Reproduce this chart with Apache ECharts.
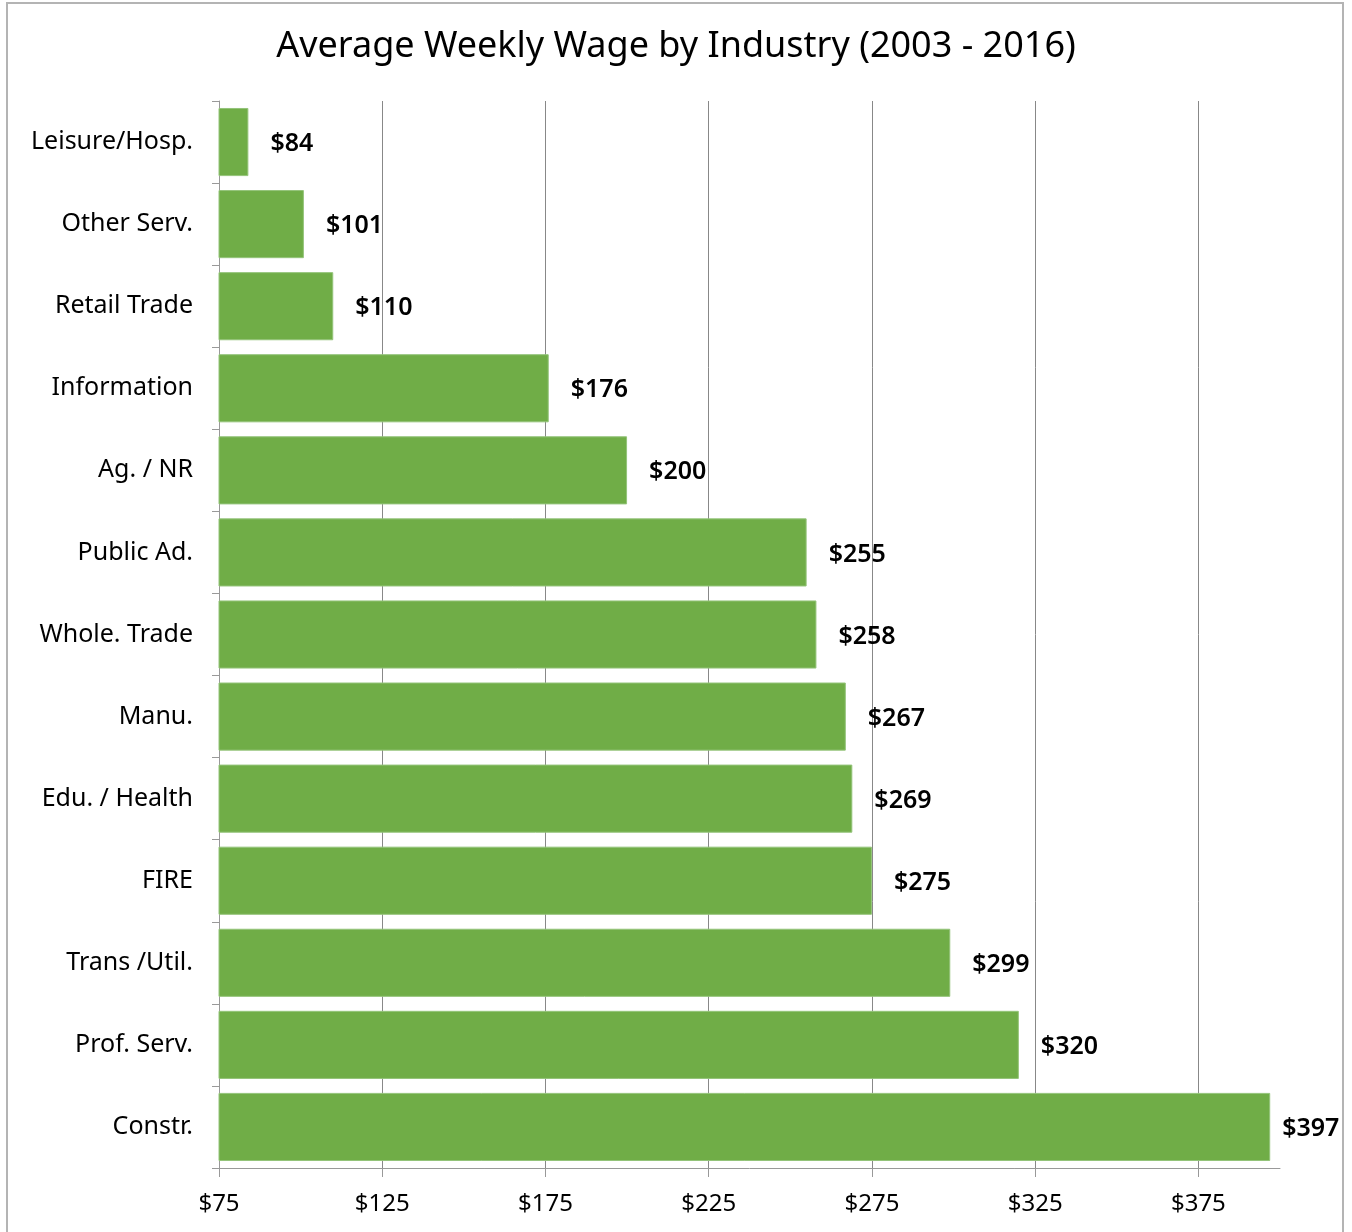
<!DOCTYPE html>
<html>
<head>
<meta charset="utf-8">
<script src="https://cdn.jsdelivr.net/npm/echarts@6/dist/echarts.min.js"></script>
<style>
  html, body { margin: 0; padding: 0; background: #fff; }
  #frame { position: absolute; left: 6px; top: 2px; width: 1338px; height: 1240px; border: 2px solid #b4b4b4; box-sizing: border-box; }
  #chart { position: absolute; left: 0; top: 0; width: 1352px; height: 1232px; }
</style>
</head>
<body>
<div id="frame"></div>
<div id="chart"></div>
<script>
var industries = ['Leisure/Hosp.', 'Other Serv.', 'Retail Trade', 'Information', 'Ag. / NR', 'Public Ad.',
    'Whole. Trade', 'Manu.', 'Edu. / Health', 'FIRE', 'Trans /Util.', 'Prof. Serv.', 'Constr.'];
var wages = [84, 101, 110, 176, 200, 255, 258, 267, 269, 275, 299, 320, 397];
var wageTicks = [75, 125, 175, 225, 275, 325, 375];

var barData = wages.map(function (v, i) {
    var item = { value: v };
    if (i === wages.length - 1) item.label = { distance: 12 };
    return item;
});

var chart = echarts.init(document.getElementById('chart'));

var option = {
    animation: false,
    title: {
        text: 'Average Weekly Wage by Industry (2003 - 2016)',
        left: 'center',
        top: 24,
        textStyle: { fontFamily: 'Noto Sans', fontSize: 36, fontWeight: 'normal', color: '#000' }
    },
    grid: { left: 219, right: 72, top: 101, bottom: 64, containLabel: false },
    xAxis: {
        type: 'value',
        min: 75,
        max: 400,
        interval: 50,
        axisLine: { show: true, lineStyle: { color: '#999', width: 1 } },
        axisTick: { show: true, length: 9, customValues: wageTicks, lineStyle: { color: '#999' } },
        splitLine: { show: true, lineStyle: { color: '#888', width: 1 } },
        axisLabel: {
            customValues: wageTicks,
            margin: 24,
            fontFamily: 'Noto Sans',
            fontSize: 24,
            color: '#000',
            formatter: function (v) { return '$' + v; }
        }
    },
    yAxis: {
        type: 'category',
        inverse: true,
        data: industries,
        axisLine: { show: true, lineStyle: { color: '#999', width: 1 } },
        axisTick: { show: true, length: 7, lineStyle: { color: '#999' } },
        axisLabel: { margin: 26, fontFamily: 'Noto Sans', fontSize: 25, color: '#000' }
    },
    series: [{
        type: 'bar',
        data: barData,
        barCategoryGap: '17%',
        itemStyle: { color: '#70ad47', borderColor: '#94c47a', borderWidth: 1 },
        label: {
            show: true,
            position: 'right',
            distance: 22,
            offset: [0, 2],
            fontFamily: 'Noto Sans',
            fontSize: 25,
            fontWeight: 600,
            color: '#000',
            formatter: function (p) { return '$' + p.value; }
        }
    }]
};

chart.setOption(option);
</script>
</body>
</html>
